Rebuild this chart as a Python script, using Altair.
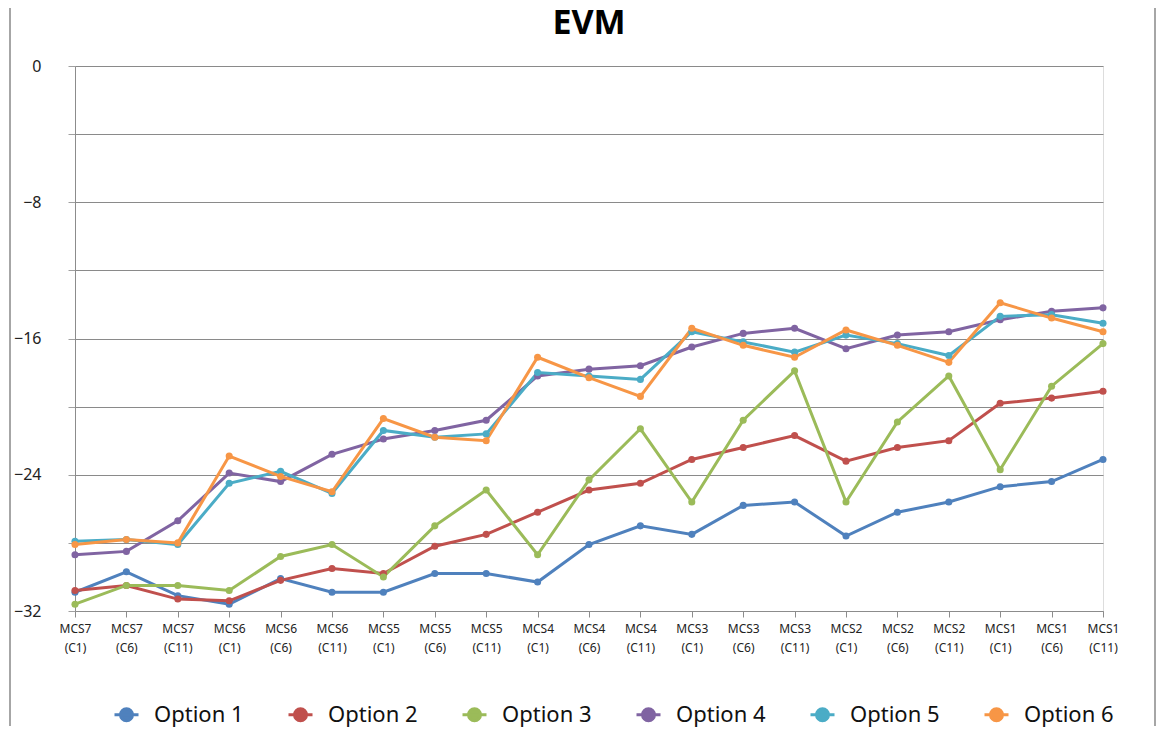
import altair as alt
import pandas as pd

title_text = "EVM"
categories = [
    "MCS7 (C1)", "MCS7 (C6)", "MCS7 (C11)",
    "MCS6 (C1)", "MCS6 (C6)", "MCS6 (C11)",
    "MCS5 (C1)", "MCS5 (C6)", "MCS5 (C11)",
    "MCS4 (C1)", "MCS4 (C6)", "MCS4 (C11)",
    "MCS3 (C1)", "MCS3 (C6)", "MCS3 (C11)",
    "MCS2 (C1)", "MCS2 (C6)", "MCS2 (C11)",
    "MCS1 (C1)", "MCS1 (C6)", "MCS1 (C11)",
]
series_names = ["Option 1", "Option 2", "Option 3", "Option 4", "Option 5", "Option 6"]
option1 = [-30.9, -29.7, -31.1, -31.6, -30.1, -30.9, -30.9, -29.8, -29.8, -30.3, -28.1,
           -27.0, -27.5, -25.8, -25.6, -27.6, -26.2, -25.6, -24.7, -24.4, -23.1]
option2 = [-30.8, -30.5, -31.3, -31.4, -30.2, -29.5, -29.8, -28.2, -27.5, -26.2, -24.9,
           -24.5, -23.1, -22.4, -21.7, -23.2, -22.4, -22.0, -19.8, -19.5, -19.1]
option3 = [-31.6, -30.5, -30.5, -30.8, -28.8, -28.1, -30.0, -27.0, -24.9, -28.7, -24.3,
           -21.3, -25.6, -20.8, -17.9, -25.6, -20.9, -18.2, -23.7, -18.8, -16.3]
option4 = [-28.7, -28.5, -26.7, -23.9, -24.4, -22.8, -21.9, -21.4, -20.8, -18.2, -17.8,
           -17.6, -16.5, -15.7, -15.4, -16.6, -15.8, -15.6, -14.9, -14.4, -14.2]
option5 = [-27.9, -27.8, -28.1, -24.5, -23.8, -25.1, -21.4, -21.8, -21.6, -18.0, -18.2,
           -18.4, -15.6, -16.2, -16.8, -15.8, -16.3, -17.0, -14.7, -14.6, -15.1]
option6 = [-28.1, -27.8, -28.0, -22.9, -24.1, -25.0, -20.7, -21.8, -22.0, -17.1, -18.3,
           -19.4, -15.4, -16.4, -17.1, -15.5, -16.4, -17.4, -13.9, -14.8, -15.6]
colors = ["#4F81BD", "#C0504D", "#9BBB59", "#8064A2", "#4BACC6", "#F79646"]
y_ticks = [-32, -28, -24, -20, -16, -12, -8, -4, 0]

all_series = [option1, option2, option3, option4, option5, option6]
rows = []
for name, vals in zip(series_names, all_series):
    for c, v in zip(categories, vals):
        rows.append({"cat": c, "series": name, "value": v})
df = pd.DataFrame(rows)

FONT = "Noto Sans"

x_enc = alt.X(
    "cat:N", sort=categories, title=None,
    scale=alt.Scale(type="point", padding=0),
    axis=alt.Axis(
        labelExpr="split(datum.label, ' ')", labelAngle=0, labelFontSize=12,
        labelLineHeight=19, labelPadding=6, labelColor="#222222", labelFont=FONT,
        tickColor="#8c8c8c", tickSize=6, domainColor="#8c8c8c", grid=False,
    ),
)
y_enc = alt.Y(
    "value:Q", title=None,
    scale=alt.Scale(domain=[-32, 0], nice=False, zero=False),
    axis=alt.Axis(
        values=y_ticks, labelExpr="datum.value % 8 == 0 ? datum.label : ''",
        labelFontSize=16, labelPadding=27, labelColor="#222222", labelFont=FONT,
        tickColor="#a0a0a0", tickSize=7, domainColor="#8c8c8c",
        gridColor="#8a8a8a", gridWidth=1, gridOpacity=1,
    ),
)
color_scale = alt.Scale(domain=series_names, range=colors)
color_enc = alt.Color(
    "series:N", sort=series_names, scale=color_scale,
    legend=alt.Legend(
        title=None, orient="none", direction="horizontal", columns=6,
        legendX=38, legendY=635,
        symbolType="M-1,0L1,0M-0.5,0A0.5,0.5,0,1,1,0.5,0A0.5,0.5,0,1,1,-0.5,0Z",
        symbolSize=576, symbolStrokeWidth=3, labelFontSize=22, labelFont=FONT,
        labelColor="#111111", labelOffset=14, columnPadding=38, symbolOpacity=1,
    ),
)

base = alt.Chart(df)
lines = base.mark_line(strokeWidth=3).encode(x=x_enc, y=y_enc, color=color_enc)
points = base.mark_point(filled=True, size=50, opacity=1).encode(
    x=x_enc, y=y_enc,
    color=alt.Color("series:N", sort=series_names, scale=color_scale, legend=None))

title_mark = alt.Chart(pd.DataFrame({"t": [title_text]})).mark_text(
    font=FONT, fontSize=34, fontWeight="bold", color="#000000",
    align="center", baseline="middle",
).encode(text="t:N", x=alt.value(514), y=alt.value(-42))

frame_left = alt.Chart(df).mark_rule(color="#a6a6a6", strokeWidth=2).encode(
    x=alt.value(-65), y=alt.value(-66), y2=alt.value(660))
frame_right = alt.Chart(df).mark_rule(color="#a6a6a6", strokeWidth=2).encode(
    x=alt.value(1080), y=alt.value(-66), y2=alt.value(660))

chart = alt.layer(lines, points, title_mark, frame_left, frame_right).properties(
    width=1028, height=545,
    autosize=alt.AutoSizeParams(type="none"),
    padding={"left": 67, "top": 58, "right": 54, "bottom": 119},
).configure_view(stroke="#bfbfbf", strokeWidth=1.5).configure(background="white")

chart.save("out.html", embed_options={"renderer": "svg", "actions": False})
